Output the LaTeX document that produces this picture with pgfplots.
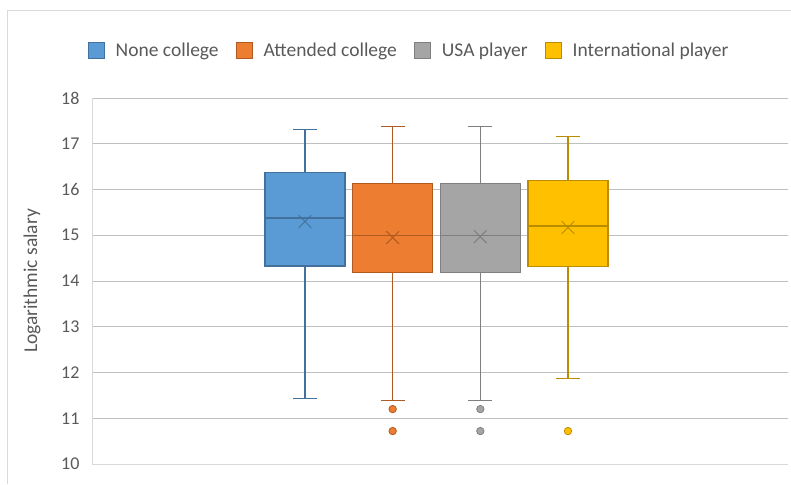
\documentclass[border=0pt]{standalone}
\usepackage{fontspec}
\setmainfont{Carlito}
\usepackage{pgfplots}
\pgfplotsset{compat=1.18}
\usepgfplotslibrary{statistics}
\definecolor{txt}{HTML}{595959}
\definecolor{grid}{HTML}{D9D9D9}
\definecolor{bF}{HTML}{5B9BD5}\definecolor{bE}{HTML}{41719C}
\definecolor{oF}{HTML}{ED7D31}\definecolor{oE}{HTML}{AE5A21}
\definecolor{gF}{HTML}{A5A5A5}\definecolor{gE}{HTML}{7F7F7F}
\definecolor{yF}{HTML}{FFC000}\definecolor{yE}{HTML}{BC8C00}
\begin{document}
\begin{tikzpicture}
\useasboundingbox (0,0) rectangle (791pt,484pt);
\draw[grid, line width=1pt] (7pt,0pt) -- (7pt,473pt) -- (791pt,473pt);
\begin{axis}[
  at={(92pt,20pt)}, anchor=south west,
  scale only axis, width=696pt, height=366pt,
  xmin=-1.43, xmax=6.51, ymin=10, ymax=18,
  ytick={10,11,...,18}, xtick=\empty,
  ymajorgrids, grid style={grid, line width=1pt},
  axis x line*=bottom, axis y line*=left,
  axis line style={grid, line width=1pt, -},
  major tick length=0pt,
  /pgf/number format/assume math mode=true,
  tick label style={font=\fontsize{18}{18}\selectfont, text=txt},
  yticklabel style={xshift=-9pt},
  ylabel={Logarithmic salary},
  ylabel style={at={(axis description cs:-0.0862,0.5)}, anchor=center, font=\fontsize{19.5}{19.5}\selectfont, text=txt},
  legend style={at={(0.4555,1.13)}, anchor=center, draw=none, fill=none,
    font=\fontsize{19.5}{19.5}\selectfont, text=txt, inner sep=0pt,
    /tikz/every odd column/.append style={column sep=9pt},
    /tikz/every even column/.append style={column sep=15pt}},
  legend columns=4,
  legend image code/.code={\draw[#1, line width=1pt] (0pt,-8pt) rectangle (16pt,8pt);},
  boxplot/draw direction=y,
  boxplot/every whisker/.style={line width=1.1pt},
]
\addlegendimage{fill=bF, draw=bE}\addlegendentry{None college}
\addlegendimage{fill=oF, draw=oE}\addlegendentry{Attended college}
\addlegendimage{fill=gF, draw=gE}\addlegendentry{USA player}
\addlegendimage{fill=yF, draw=yE}\addlegendentry{International player}

\addplot[forget plot, fill=bF, draw=bE, line width=1.3pt,
  boxplot prepared={median=15.38, upper quartile=16.37, lower quartile=14.33,
  upper whisker=17.31, lower whisker=11.43, draw position=1,
  box extend=0.91, whisker extend=0.27}] coordinates {};
\addplot[forget plot, fill=oF, draw=oE, line width=1.3pt, mark=*, mark size=3.7pt, mark options={fill=oF, draw=oE, line width=0.8pt},
  boxplot prepared={median=15.00, upper quartile=16.13, lower quartile=14.18,
  upper whisker=17.37, lower whisker=11.38, draw position=2,
  box extend=0.91, whisker extend=0.27}] table[row sep=\\, y index=0] {data\\ 11.20\\ 10.72\\};
\addplot[forget plot, fill=gF, draw=gE, line width=1.3pt, mark=*, mark size=3.7pt, mark options={fill=gF, draw=gE, line width=0.8pt},
  boxplot prepared={median=14.99, upper quartile=16.13, lower quartile=14.18,
  upper whisker=17.37, lower whisker=11.38, draw position=3,
  box extend=0.91, whisker extend=0.27}] table[row sep=\\, y index=0] {data\\ 11.20\\ 10.72\\};
\addplot[forget plot, fill=yF, draw=yE, line width=1.3pt, mark=*, mark size=3.7pt, mark options={fill=yF, draw=yE, line width=0.8pt},
  boxplot prepared={median=15.20, upper quartile=16.19, lower quartile=14.32,
  upper whisker=17.15, lower whisker=11.87, draw position=4,
  box extend=0.91, whisker extend=0.27}] table[row sep=\\, y index=0] {data\\ 10.72\\};

\addplot[forget plot, only marks, mark=x, mark size=9pt, draw=bE, line width=1pt] coordinates {(1,15.30)};
\addplot[forget plot, only marks, mark=x, mark size=9pt, draw=oE, line width=1pt] coordinates {(2,14.95)};
\addplot[forget plot, only marks, mark=x, mark size=9pt, draw=gE, line width=1pt] coordinates {(3,14.97)};
\addplot[forget plot, only marks, mark=x, mark size=9pt, draw=yE, line width=1pt] coordinates {(4,15.17)};
\end{axis}
\end{tikzpicture}
\end{document}
